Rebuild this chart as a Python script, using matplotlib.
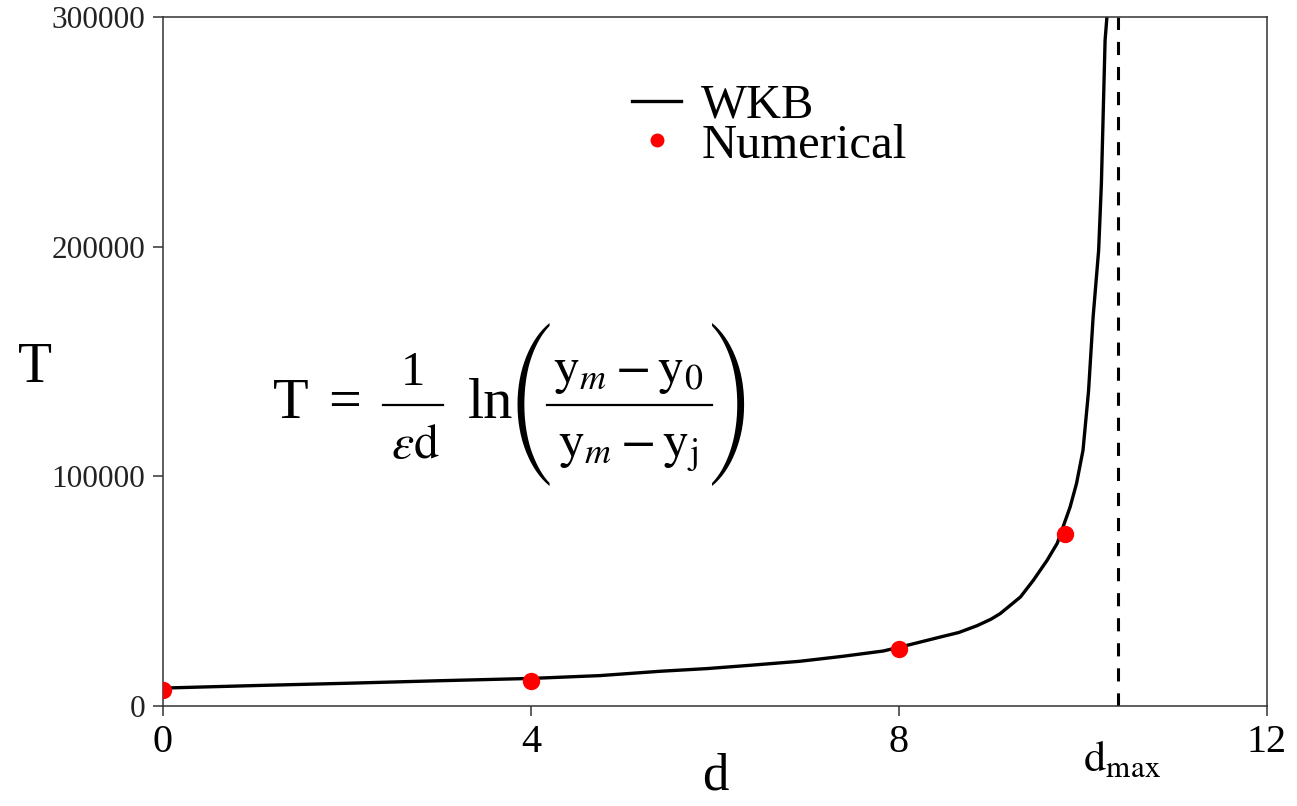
import os
import matplotlib
matplotlib.use('Agg')
import matplotlib.pyplot as plt
from matplotlib.lines import Line2D
from matplotlib.font_manager import FontProperties

plt.rcParams['font.family'] = ['Liberation Serif', 'DejaVu Serif']
plt.rcParams['mathtext.fontset'] = 'stix'

# WKB curve
d_wkb = [0.0, 1.0, 2.0, 3.0, 4.0, 4.75, 5.4, 5.91, 6.38, 6.92, 7.39, 7.83,
         8.09, 8.45, 8.65, 8.85, 9.0, 9.10, 9.32, 9.46, 9.61, 9.72, 9.86, 9.93,
         10.0, 10.06, 10.11, 10.17, 10.20, 10.24, 10.26, 10.27]
T_wkb = [7800, 8900, 9900, 11000, 12000, 13240, 15110, 16280, 17720, 19460,
         21640, 23950, 26430, 30040, 32000, 35000, 37800, 40230, 47460, 54730,
         63440, 70840, 86650, 96960, 111330, 137000, 169370, 198400, 227600,
         289800, 300000, 310000]

# numerical points
d_num = [0, 4, 8, 9.8]
T_num = [6840, 10890, 25000, 74770]

d_max = 10.38

W, H = 1297, 806
fig = plt.figure(figsize=(W / 100, H / 100), dpi=100)
ax = fig.add_axes([163 / W, 1 - 706 / H, 1104 / W, 689 / H])

ax.plot(d_wkb, T_wkb, color='black', lw=2.4, label='WKB', zorder=2)
ax.plot(d_num, T_num, 'o', color='red', ms=11.5, mec='red', label='Numerical', zorder=3)
ax.axvline(d_max, color='black', lw=2.2, linestyle=(0, (4.3, 3.9)), zorder=2)

ax.set_xlim(0, 12)
ax.set_ylim(0, 300000)
ax.set_xticks([0, 4, 8, 12])
ax.set_yticks([0, 100000, 200000, 300000])
ax.set_yticklabels(['0', '100000', '200000', '300000'])

for s in ax.spines.values():
    s.set_linewidth(1.1)
    s.set_color('#333333')
ax.tick_params(axis='x', direction='out', length=7, width=1.1, labelsize=29, pad=6,
               colors='#333333', labelcolor='black')
ax.tick_params(axis='y', direction='out', length=7, width=1.1, labelsize=22.5, pad=6,
               colors='#333333', labelcolor='#222222')

ax.set_xlabel('d', fontsize=38, labelpad=-6)
ax.set_ylabel('T', fontsize=40, rotation=0, va='center')
ax.yaxis.set_label_coords(-0.116, 0.49)

ax.annotate(r'$\mathrm{d}_{\mathrm{max}}$', xy=(d_max, 0), xycoords=('data', 'axes fraction'),
            xytext=(3, -47), textcoords='offset points', ha='center', va='baseline',
            fontsize=32, annotation_clip=False)

# formula, placed piece by piece in figure pixels
def px(x, y):
    return x / W, 1 - y / H

big_paren = FontProperties(fname=os.path.join(matplotlib.get_data_path(),
                                              'fonts', 'ttf', 'STIXSizFourSymReg.ttf'),
                           size=38)
fig.text(*px(273, 418), 'T', fontsize=42, ha='left', va='baseline')
fig.text(*px(345, 418), '=', fontsize=42, ha='center', va='baseline')
fig.text(*px(413, 385), '1', fontsize=35, ha='center', va='baseline')
fig.text(*px(415, 458), r'$\varepsilon\mathrm{d}$', fontsize=36, ha='center', va='baseline')
fig.add_artist(Line2D([383 / W, 443 / W], [1 - 405 / H] * 2, color='black', lw=1.6))
fig.text(*px(468, 418), 'ln', fontsize=42, ha='left', va='baseline')
fig.text(*px(532, 404), '(', fontproperties=big_paren, ha='center', va='center')
fig.text(*px(628, 383), r'$\mathrm{y}_{m}-\mathrm{y}_{0}$', fontsize=37, ha='center', va='baseline')
fig.text(*px(628, 458), r'$\mathrm{y}_{m}-\mathrm{y}_{\mathrm{j}}$', fontsize=37, ha='center', va='baseline')
fig.add_artist(Line2D([547 / W, 712 / W], [1 - 405 / H] * 2, color='black', lw=1.6))
fig.text(*px(729, 404), ')', fontproperties=big_paren, ha='center', va='center')

handles = [Line2D([], [], color='black', lw=2.4),
           Line2D([], [], marker='o', ls='', color='red', ms=9)]
ax.legend(handles, ['WKB', 'Numerical'], loc='upper left', bbox_to_anchor=(0.425, 0.903),
          frameon=False, fontsize=35, handlelength=1.0, handletextpad=0.42,
          labelspacing=-0.09, borderpad=0, borderaxespad=0)

fig.savefig('out.png', dpi=100)
